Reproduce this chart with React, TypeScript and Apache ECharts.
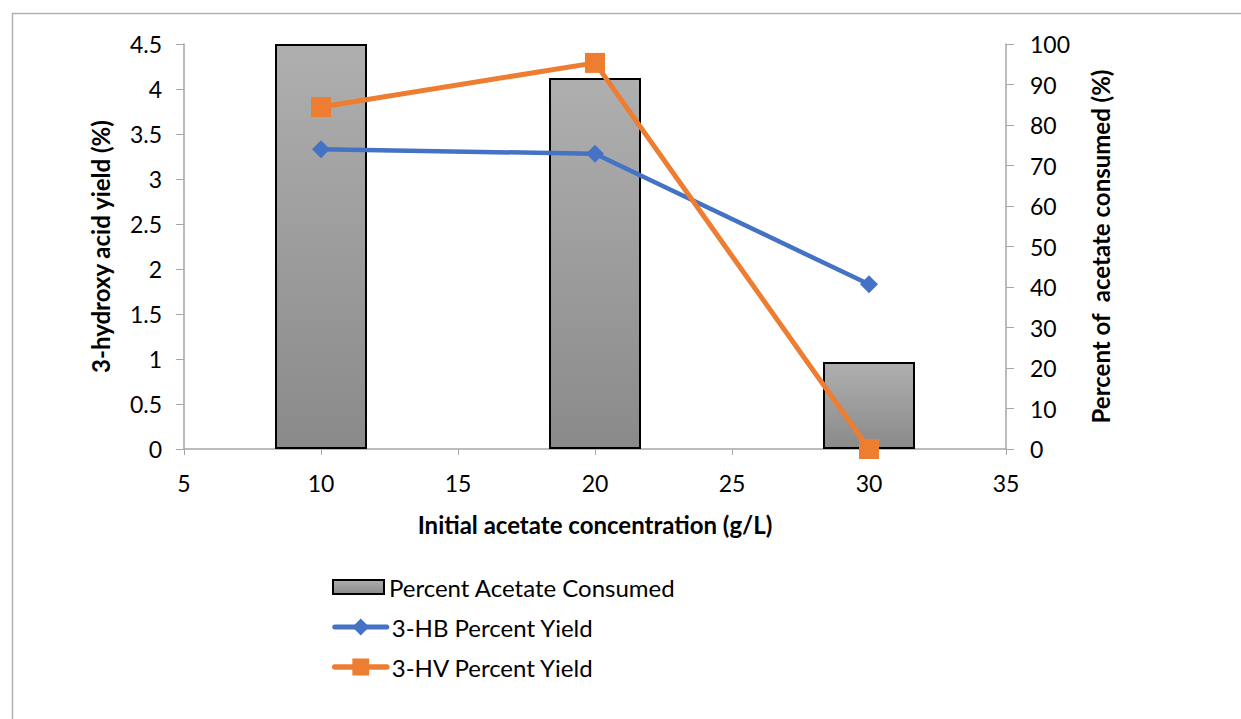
import React, { useEffect, useRef } from "react";
import * as echarts from "echarts";

const concentrations = [10, 20, 30];
const acetateConsumed = [100, 91.6, 21.5];
const hbYield = [3.33, 3.28, 1.83];
const hvYield = [3.8, 4.29, 0];
const seriesNames = ["Percent Acetate Consumed", "3-HB Percent Yield", "3-HV Percent Yield"];

const FONT = "Lato, 'Open Sans', sans-serif";
const BLUE = "#4472c4";
const ORANGE = "#ed7d31";

export default function App() {
  const ref = useRef<HTMLDivElement>(null);
  useEffect(() => {
    if (!ref.current) return;
    const chart = echarts.init(ref.current, undefined, { renderer: "svg" });
    const pair = (ys: number[]) => concentrations.map((x, i) => [x, ys[i]]);
    const axisLine = { show: true, lineStyle: { color: "#a6a6a6", width: 1.5 } };
    const label = { color: "#000", fontSize: 23, fontFamily: FONT };
    const nameStyle = { color: "#000", fontSize: 24, fontWeight: "bold" as const, fontFamily: FONT };
    const legendText = { color: "#000", fontSize: 24, fontFamily: FONT };
    chart.setOption({
      animation: false,
      backgroundColor: "#fff",
      textStyle: { fontFamily: FONT },
      graphic: [
        {
          type: "rect",
          left: 10,
          top: 11,
          shape: { width: 1300, height: 800 },
          style: { fill: "none", stroke: "#b0b0b0", lineWidth: 1.5 },
          silent: true,
        },
      ],
      grid: { left: 184, right: 235, top: 44, bottom: 270 },
      legend: [
        {
          orient: "vertical",
          left: 332,
          top: 575,
          padding: 0,
          itemWidth: 51,
          itemHeight: 14,
          data: [{ name: seriesNames[0], icon: "rect" }],
          textStyle: legendText,
        },
        {
          orient: "vertical",
          left: 332,
          top: 615,
          padding: 0,
          itemGap: 16,
          itemWidth: 52,
          itemHeight: 21,
          data: [
            { name: seriesNames[1], lineStyle: { width: 5, cap: "round" } },
            { name: seriesNames[2], lineStyle: { width: 5.5, cap: "round" } },
          ],
          textStyle: legendText,
        },
      ],
      xAxis: {
        type: "value",
        min: 5,
        max: 35,
        interval: 5,
        name: "Initial acetate concentration (g/L)",
        nameLocation: "middle",
        nameGap: 63,
        nameTextStyle: nameStyle,
        axisLine,
        axisTick: { show: true, length: 6, lineStyle: { color: "#a6a6a6" } },
        axisLabel: { ...label, margin: 22 },
        splitLine: { show: false },
      },
      yAxis: [
        {
          type: "value",
          min: 0,
          max: 4.5,
          interval: 0.5,
          name: "3-hydroxy acid yield (%)",
          nameLocation: "middle",
          nameGap: 72,
          nameRotate: 90,
          nameTextStyle: nameStyle,
          axisLine,
          axisTick: { show: true, length: 8, lineStyle: { color: "#a6a6a6" } },
          axisLabel: { ...label, margin: 22 },
          splitLine: { show: false },
        },
        {
          type: "value",
          min: 0,
          max: 100,
          interval: 10,
          position: "right",
          name: "Percent of  acetate consumed (%)",
          nameLocation: "middle",
          nameGap: 82,
          nameRotate: 90,
          nameTextStyle: nameStyle,
          axisLine,
          axisTick: { show: true, length: 8, lineStyle: { color: "#a6a6a6" } },
          axisLabel: { ...label, margin: 24 },
          splitLine: { show: false },
        },
      ],
      series: [
        {
          name: seriesNames[0],
          type: "bar",
          yAxisIndex: 1,
          barWidth: 92,
          data: pair(acetateConsumed),
          itemStyle: {
            color: new echarts.graphic.LinearGradient(0, 0, 0, 1, [
              { offset: 0, color: "#afafaf" },
              { offset: 1, color: "#8a8a8a" },
            ]),
            borderColor: "#000",
            borderWidth: 2,
          },
          z: 1,
        },
        {
          name: seriesNames[1],
          type: "line",
          data: pair(hbYield),
          symbol: "diamond",
          symbolSize: 18,
          lineStyle: { color: BLUE, width: 4.5 },
          itemStyle: { color: BLUE },
          z: 3,
        },
        {
          name: seriesNames[2],
          type: "line",
          data: pair(hvYield),
          symbol: "rect",
          symbolSize: 20,
          lineStyle: { color: ORANGE, width: 5 },
          itemStyle: { color: ORANGE },
          z: 4,
        },
      ],
    });
    return () => chart.dispose();
  }, []);
  return (
    <div
      ref={ref}
      style={{ position: "absolute", left: 0, top: 0, width: 1241, height: 719 }}
    />
  );
}
